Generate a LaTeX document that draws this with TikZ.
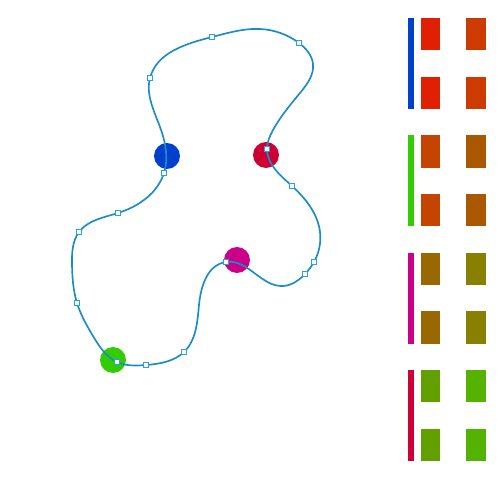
\documentclass[tikz,border=0pt]{standalone}
\usetikzlibrary{hobby}
\definecolor{pathblue}{RGB}{26,140,204}
\definecolor{handleblue}{RGB}{40,160,225}
\definecolor{dotblue}{RGB}{0,64,204}
\definecolor{dotred}{RGB}{204,0,51}
\definecolor{dotmagenta}{RGB}{204,0,136}
\definecolor{dotgreen}{RGB}{51,204,0}
\definecolor{swatchA}{RGB}{224,32,0}
\definecolor{swatchB}{RGB}{204,60,0}
\definecolor{swatchC}{RGB}{196,68,0}
\definecolor{swatchD}{RGB}{170,88,0}
\definecolor{swatchE}{RGB}{153,104,0}
\definecolor{swatchF}{RGB}{136,128,0}
\definecolor{swatchG}{RGB}{98,160,0}
\definecolor{swatchH}{RGB}{84,178,0}
\begin{document}
\begin{tikzpicture}[x=0.02cm, y=-0.02cm,
		dot/.style={circle, inner sep=0pt, minimum size=0.52cm},
		handle/.style={draw=handleblue, fill=white, line width=0.6pt, inner sep=0pt, minimum size=0.11cm},
		curve/.style={draw=pathblue, line width=0.95pt}]
		\useasboundingbox (0,0) rectangle (500,500);
		
		% coloured dots
		\node[dot, fill=dotblue] (blue) at (167,156) {};
		\node[dot, fill=dotred] (red) at (266,155) {};
		\node[dot, fill=dotmagenta] (magenta) at (237,260) {};
		\node[dot, fill=dotgreen] (green) at (113,360) {};
		
		% path anchors
		\coordinate (c1) at (164,173);
		\coordinate (c2) at (118,213);
		\coordinate (c3) at (79,232);
		\coordinate (c4) at (77,303);
		\coordinate (c5) at (117,362);
		\coordinate (c6) at (146,365);
		\coordinate (c7) at (184,352);
		\coordinate (c8) at (226,262);
		\coordinate (c9) at (305,274);
		\coordinate (c10) at (314,262);
		\coordinate (c11) at (292,186);
		\coordinate (c12) at (267,149);
		\coordinate (c13) at (299,43);
		\coordinate (c14) at (212,37);
		\coordinate (c15) at (150,78);
		
		% closed curve
		\draw[curve, use Hobby shortcut, closed=true]
			(c1) .. (c2) .. (c3) .. (72,264) .. (c4) .. (93,336) .. (c5) .. (c6) .. (c7)
			.. (199,305) .. (c8) .. (283,286) .. (c9) .. (c10) .. (320,232)
			.. (c11) .. (c12) .. (273,130) .. (300,93) .. (313,64) .. (c13) .. (260,29) .. (c14)
			.. (c15) .. (160,127);
		
		% handles
		\node[handle] (h1) at (c1) {};
		\node[handle] (h2) at (c2) {};
		\node[handle] (h3) at (c3) {};
		\node[handle] (h4) at (c4) {};
		\node[handle] (h5) at (c5) {};
		\node[handle] (h6) at (c6) {};
		\node[handle] (h7) at (c7) {};
		\node[handle] (h8) at (c8) {};
		\node[handle] (h9) at (c9) {};
		\node[handle] (h10) at (c10) {};
		\node[handle] (h11) at (c11) {};
		\node[handle] (h12) at (c12) {};
		\node[handle] (h13) at (c13) {};
		\node[handle] (h14) at (c14) {};
		\node[handle] (h15) at (c15) {};
		
		% swatch bars
		\fill[dotblue] (408,18) rectangle (414,109);
		\fill[dotgreen] (408,135) rectangle (414,226);
		\fill[dotmagenta] (408,253) rectangle (414,344);
		\fill[dotred] (408,370) rectangle (414,461);
		
		% swatches
		\fill[swatchA] (421,18) rectangle (440,50);
		\fill[swatchA] (421,77) rectangle (440,109);
		\fill[swatchB] (466,18) rectangle (486,50);
		\fill[swatchB] (466,77) rectangle (486,109);
		
		\fill[swatchC] (421,135) rectangle (440,168);
		\fill[swatchC] (421,194) rectangle (440,226);
		\fill[swatchD] (466,135) rectangle (486,168);
		\fill[swatchD] (466,194) rectangle (486,226);
		
		\fill[swatchE] (421,253) rectangle (440,285);
		\fill[swatchE] (421,311) rectangle (440,344);
		\fill[swatchF] (466,253) rectangle (486,285);
		\fill[swatchF] (466,311) rectangle (486,344);
		
		\fill[swatchG] (421,370) rectangle (440,402);
		\fill[swatchG] (421,429) rectangle (440,461);
		\fill[swatchH] (466,370) rectangle (486,402);
		\fill[swatchH] (466,429) rectangle (486,461);
		
\end{tikzpicture}
\end{document}
